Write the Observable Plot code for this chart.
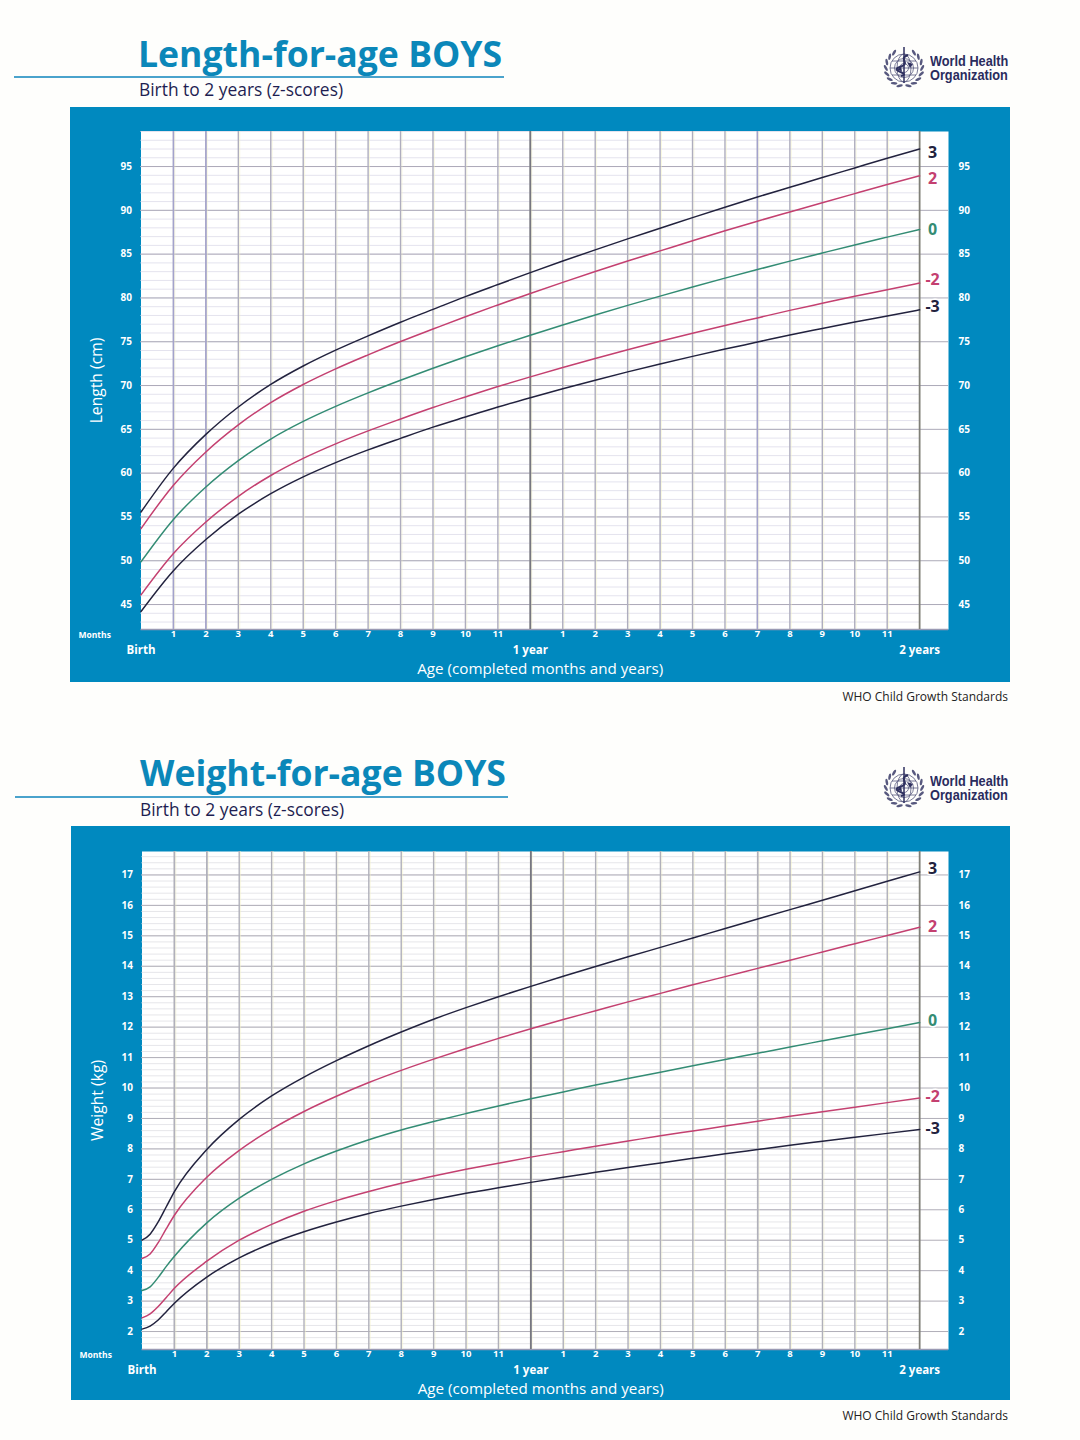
<!DOCTYPE html>
<html><head><meta charset="utf-8">
<script src="https://cdn.jsdelivr.net/npm/d3@7"></script>
<script src="https://cdn.jsdelivr.net/npm/@observablehq/plot@0.6"></script>
<style>
html,body{margin:0;padding:0;background:#fefefc;}
#page{position:relative;width:1080px;height:1440px;overflow:hidden;font-family:"Open Sans",sans-serif;}
#page>*{position:absolute;}
.title{color:#0b87b9;font-weight:700;font-size:35.6px;line-height:40px;white-space:nowrap;}
.sub{color:#1e1e52;font-size:17.4px;line-height:24px;white-space:nowrap;}
.rule{height:2px;background:#4aa3cc;}
.org{color:#2a2c5e;font-family:"Liberation Sans","Roboto",sans-serif;font-weight:700;font-size:14px;line-height:14.4px;white-space:nowrap;transform:scaleX(.91);transform-origin:left center;}
.foot{color:#222;font-size:12px;line-height:16px;white-space:nowrap;right:72px;}
</style></head><body><div id="page"></div>
<script>
const months = d3.range(0, 25);
const zLabels = ["3", "2", "0", "-2", "-3"];
const zColors = ["#22223e", "#c44070", "#338c74", "#c44070", "#22223e"];

// Length-for-age (cm), one list per z-score, month 0 to 24
const lenP3 = [55.56,60.57,64.42,67.55,70.13,72.23,74.04,75.67,77.23,78.69,80.15,81.53,82.89,84.21,85.49,86.74,87.95,89.17,90.36,91.52,92.63,93.74,94.84,95.94,97.0];
const lenP2 = [53.67,58.62,62.42,65.51,68.05,70.12,71.9,73.5,75.02,76.45,77.86,79.2,80.51,81.78,83.01,84.21,85.37,86.53,87.66,88.76,89.82,90.87,91.91,92.94,93.94];
const len0  = [49.88,54.72,58.42,61.43,63.89,65.9,67.62,69.16,70.6,71.97,73.28,74.54,75.75,76.92,78.05,79.15,80.21,81.25,82.26,83.24,84.2,85.13,86.05,86.94,87.82];
const lenM2 = [46.1,50.82,54.42,57.35,59.73,61.68,63.34,64.82,66.18,67.49,68.7,69.88,70.99,72.06,73.09,74.09,75.05,75.97,76.86,77.72,78.58,79.39,80.19,80.94,81.7];
const lenM3 = [44.21,48.87,52.42,55.31,57.65,59.57,61.2,62.65,63.97,65.25,66.41,67.55,68.61,69.63,70.61,71.56,72.47,73.33,74.16,74.96,75.77,76.52,77.26,77.94,78.64];
const lenLabelY = [96.6,93.6,87.8,82.1,79.0];
const lenTicks = [45,50,55,60,65,70,75,80,85,90,95];

// Weight-for-age (kg): quarter-months through the first month, then monthly
const wtAges = [0,0.25,0.5,0.75,...d3.range(1,25)];
const wtP3 = [5.0,5.2,5.6,6.1,6.6,7.98,8.97,9.74,10.36,10.9,11.39,11.84,12.26,12.64,13.0,13.34,13.67,13.99,14.31,14.62,14.93,15.24,15.55,15.86,16.17,16.48,16.79,17.1];
const wtP2 = [4.4,4.55,4.92,5.38,5.82,7.07,7.95,8.65,9.23,9.73,10.18,10.58,10.95,11.3,11.63,11.95,12.25,12.54,12.83,13.11,13.39,13.66,13.93,14.2,14.47,14.74,15.01,15.28];
const wt0  = [3.35,3.47,3.78,4.14,4.47,5.57,6.38,7.0,7.51,7.93,8.3,8.62,8.9,9.16,9.41,9.65,9.87,10.1,10.31,10.52,10.73,10.94,11.14,11.35,11.55,11.75,11.95,12.15];
const wtM2 = [2.45,2.58,2.82,3.12,3.42,4.31,5.0,5.52,5.95,6.3,6.6,6.87,7.11,7.33,7.53,7.73,7.91,8.09,8.26,8.43,8.59,8.75,8.91,9.07,9.22,9.37,9.52,9.67];
const wtM3 = [2.08,2.18,2.38,2.65,2.93,3.79,4.42,4.9,5.28,5.6,5.88,6.12,6.34,6.54,6.72,6.9,7.07,7.23,7.39,7.54,7.69,7.84,7.98,8.12,8.25,8.38,8.51,8.64];
const wtLabelY = [17.2,15.3,12.2,9.7,8.66];
const wtTicks = d3.range(2,18);

const milestoneAge = [0,12,24];
const milestoneText = ["Birth","1 year","2 years"];
const monthTicks = [1,2,3,4,5,6,7,8,9,10,11,13,14,15,16,17,18,19,20,21,22,23];
const purpleMonths = [1,2,19];

function chart(c){
  const rows = c.series.flatMap((s,k)=>s.map((v,i)=>({age:c.ages[i],v,z:zLabels[k]})));
  const white = {fill:"white",fontFamily:"Open Sans",fontWeight:700};
  return Plot.plot({
    width:c.width, height:c.height,
    marginLeft:c.ml, marginRight:c.mr, marginTop:c.mt, marginBottom:c.mb,
    style:{background:"#0089bf",position:"absolute",left:c.left+"px",top:c.top+"px"},
    x:{domain:[0,c.xMax]},
    y:{domain:c.yDomain},
    color:{domain:zLabels,range:zColors},
    marks:[
      Plot.frame({fill:"white",stroke:null}),
      Plot.ruleY(c.minor,{x1:0,x2:24,stroke:c.minorColor,strokeWidth:1}),
      Plot.ruleY(c.major,{stroke:c.majorColor,strokeWidth:1}),
      Plot.ruleY(c.yDomain.slice(0,1),{stroke:"#9a9ab4",strokeWidth:1.5}),
      Plot.ruleX(months.slice(1,24),{dx:1.4,stroke:"#f6f4c6",strokeWidth:1,opacity:0.5}),
      Plot.ruleX(months.slice(1,24),{stroke:c.vColor,strokeWidth:1.4}),
      Plot.ruleX(purpleMonths,{stroke:c.purple,strokeWidth:1.4}),
      Plot.ruleX([12],{stroke:"#77777f",strokeWidth:1.8}),
      Plot.ruleX([24],{stroke:"#808078",strokeWidth:1.8}),
      Plot.line(rows,{x:"age",y:"v",z:"z",stroke:"z",strokeWidth:1.5,curve:"monotone-x"}),
      Plot.text(zLabels,{x:()=>24.4,y:(d,i)=>c.labelY[i],text:d=>d,fill:d=>d,stroke:"white",strokeWidth:3,fontFamily:"Open Sans",fontWeight:700,fontSize:16}),
      Plot.axisY({anchor:"left",ticks:c.ticks,tickSize:0,tickPadding:9,label:null,color:"white",fontFamily:"Open Sans",fontWeight:700,fontSize:10,stroke:null}),
      Plot.axisY({anchor:"right",ticks:c.ticks,tickSize:0,tickPadding:10,label:null,color:"white",fontFamily:"Open Sans",fontWeight:700,fontSize:10,stroke:null}),
      Plot.axisX({ticks:monthTicks,tickFormat:d=>String(d%12),tickSize:0,tickPadding:1,label:null,color:"white",fontFamily:"Open Sans",fontWeight:700,fontSize:9.5,stroke:null}),
      Plot.text(["Months"],{frameAnchor:"bottom-left",dx:-62.5,dy:6,lineAnchor:"middle",fontSize:8.5,...white}),
      Plot.text(milestoneText,{x:(d,i)=>milestoneAge[i],frameAnchor:"bottom",dy:21,lineAnchor:"middle",fontSize:11.5,...white}),
      Plot.text(["Age (completed months and years)"],{frameAnchor:"bottom",dx:-4.5,dy:40,lineAnchor:"middle",fontSize:15.2,fill:"white",fontFamily:"Open Sans"}),
      Plot.text([c.yLabel],{frameAnchor:"left",dx:-44,rotate:-90,textAnchor:"middle",lineAnchor:"middle",fontSize:15.7,fill:"white",fontFamily:"Open Sans"})
    ]
  });
}

const page = document.getElementById("page");
function head(h){
  const el = document.createElement("div"); el.innerHTML = h;
  while (el.firstChild) page.appendChild(el.firstChild);
}
function emblem(cx,cy){
  const leaves = [-1,1].map(s=>d3.range(0,8).map(i=>{
    const a=(14+i*19)*Math.PI/180, r=18.2, x=s*r*Math.sin(a), y=r*Math.cos(a)+1;
    const t=Math.atan2(-Math.sin(a),s*Math.cos(a))*180/Math.PI+s*28;
    return `<ellipse cx="${x.toFixed(1)}" cy="${y.toFixed(1)}" rx="3.3" ry="1.3" transform="rotate(${t.toFixed(0)} ${x.toFixed(1)} ${y.toFixed(1)})"/>`;
  }).join("")).join("");
  return `<svg width="48" height="44" viewBox="-24 -22 48 44" style="left:${cx-24}px;top:${cy-22}px" fill="none" stroke="#2f3160">
    <g stroke-width=".8" opacity=".8"><circle cy="1" r="14"/><circle cy="1" r="9.5"/><circle cy="1" r="4.5"/><ellipse cy="1" rx="7" ry="14"/><path d="M-14 1H14M-12 -6H12M-12 8H12"/></g>
    <path d="M0-20V16" stroke-width="1.5"/><path d="M4-12C-7-8 8-4-4 0S8 6-3 9" stroke-width="2"/>
    <path d="M-7 3l4-3 1 4zM3-5l6 2-3 4z" fill="#2f3160" stroke="none"/>
    <g fill="#2f3160" stroke="none" opacity=".8">${leaves}</g>
  </svg>`;
}

head(`<div class="title" style="left:138px;top:33px">Length-for-age BOYS</div>
<div class="rule" style="left:14px;top:76px;width:490px"></div>
<div class="sub" style="left:139px;top:77px">Birth to 2 years (z-scores)</div>
<div class="org" style="left:930px;top:54px">World Health<br>Organization</div>
<div class="foot" style="top:689px">WHO Child Growth Standards</div>
<div class="title" style="left:140px;top:752px">Weight-for-age BOYS</div>
<div class="rule" style="left:15px;top:796px;width:493px"></div>
<div class="sub" style="left:140px;top:797px">Birth to 2 years (z-scores)</div>
<div class="org" style="left:930px;top:774px">World Health<br>Organization</div>
<div class="foot" style="top:1408px">WHO Child Growth Standards</div>`+emblem(904,67)+emblem(904,787));

page.appendChild(chart({
  left:70,top:107,width:940,height:575,ml:70.5,mr:62,mt:24,mb:53,
  xMax:24.89,yDomain:[42.15,99],ages:months,
  series:[lenP3,lenP2,len0,lenM2,lenM3],labelY:lenLabelY,ticks:lenTicks,
  minor:d3.range(43,100),major:lenTicks,
  minorColor:"#e4e3ee",majorColor:"#acaab8",vColor:"#aeadbe",purple:"#a3a2cc",yLabel:"Length (cm)"
}));
page.appendChild(chart({
  left:71,top:826,width:939,height:574,ml:70.5,mr:62,mt:25,mb:51,
  xMax:24.89,yDomain:[1.41,17.77],ages:wtAges,
  series:[wtP3,wtP2,wt0,wtM2,wtM3],labelY:wtLabelY,ticks:wtTicks,
  minor:d3.range(8,89).map(d=>d/5),major:wtTicks,
  minorColor:"#e6e6ea",majorColor:"#b0aeb8",vColor:"#b0b0ba",purple:"#b0b0ba",yLabel:"Weight (kg)"
}));
</script></body></html>
